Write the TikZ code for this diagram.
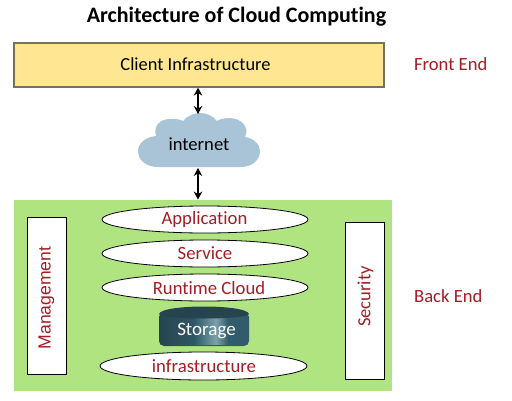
\documentclass[tikz,border=0pt]{standalone}
\usepackage{fontspec}
\setmainfont{Carlito}[Ligatures=NoCommon]
\newfontfamily\armfont{Liberation Sans}
\usetikzlibrary{arrows.meta,shapes.geometric}
\definecolor{darkred}{RGB}{163,30,36}
\definecolor{clientfill}{RGB}{254,230,146}
\definecolor{clientedge}{RGB}{120,112,90}
\definecolor{backfill}{RGB}{176,228,128}
\definecolor{cloudfill}{RGB}{168,196,214}
\definecolor{stdark}{RGB}{38,68,80}
\definecolor{stmid}{RGB}{50,92,108}
\definecolor{stlight}{RGB}{122,160,170}
\tikzset{
 lay/.style={draw=black,line width=0.8pt,fill=white,ellipse,inner sep=0pt},
 laylabel/.style={text=darkred,inner sep=0pt,font=\fontsize{18.7}{19}\selectfont},
 sidebox/.style={draw=black,line width=0.9pt,fill=white,inner sep=0pt},
 tag/.style={text=darkred,font=\fontsize{18.6}{19}\selectfont,anchor=west,inner sep=0pt},
 link/.style={line width=1.1pt,{Stealth[length=8pt,width=8.5pt]}-{Stealth[length=8pt,width=8.5pt]}}
}
\begin{document}
\begin{tikzpicture}[x=1pt,y=-1pt]
\useasboundingbox (0,0) rectangle (512,400);
\fill[white] (0,0) rectangle (512,400);
\node[font=\bfseries\fontsize{22}{22}\selectfont,inner sep=0pt] (title) at (236.5,17) {Architecture of Cloud Computing};
\node[draw=clientedge,line width=1.2pt,fill=clientfill,minimum width=370pt,minimum height=44pt,inner sep=0pt] (client) at (199,65) {};
\node[font=\fontsize{18.4}{19}\selectfont,inner sep=0pt] (clientlabel) at (195.5,64) {Client Infrastructure};
\node[tag] (front) at (414,64.5) {Front End};
% cloud
\fill[cloudfill] (158,167)
 .. controls (146,167) and (138,160) .. (138,151)
 .. controls (138,143) and (146,137) .. (156,136)
 .. controls (153,126) and (160,119) .. (170,119)
 .. controls (175,119) and (180,119) .. (183,121)
 .. controls (187,116) and (194,113) .. (200,113)
 .. controls (207,113) and (213,116) .. (217,121)
 .. controls (220,119) and (225,118) .. (229,118)
 .. controls (241,118) and (250,127) .. (245,137)
 .. controls (253,138) and (260,144) .. (260,151)
 .. controls (260,160) and (252,167) .. (241,167) -- cycle;
\coordinate (cloudtop) at (198,114);
\coordinate (cloudbottom) at (198,168);
\node[font=\fontsize{18.6}{19}\selectfont,inner sep=0pt] (net) at (199,144.5) {internet};
\node[fill=backfill,minimum width=378pt,minimum height=191.5pt,inner sep=0pt] (back) at (203,295.5) {};
\draw[link] (client.south -| cloudtop) -- (cloudtop);
\draw[link] (cloudbottom) -- (back.north -| cloudbottom);
\node[lay,minimum width=206pt,minimum height=27pt] (app) at (205,219.5) {};
\node[laylabel] (applabel) at (204.5,219.5) {Application};
\node[lay,minimum width=206pt,minimum height=27pt] (serv) at (205,253.5) {};
\node[laylabel] (servlabel) at (205,253) {Service};
\node[lay,minimum width=206pt,minimum height=27pt] (run) at (205,287.5) {};
\node[laylabel] (runlabel) at (209,288) {Runtime Cloud};
\node[lay,minimum width=207pt,minimum height=28pt] (infra) at (203.5,366) {};
\node[laylabel] (infralabel) at (204,366) {infrastructure};
\node[sidebox,minimum width=39pt,minimum height=157pt] (mgmt) at (46.5,295.5) {};
\node[rotate=90,text=darkred,inner sep=0pt,font=\armfont\fontsize{17.6}{18}\selectfont] (mgmtlabel) at (46.5,298) {Management};
\node[sidebox,minimum width=39.5pt,minimum height=157pt] (sec) at (364.7,300.5) {};
\node[rotate=90,text=darkred,inner sep=0pt,font=\fontsize{18.6}{19}\selectfont] (seclabel) at (365.5,296.5) {Security};
\node[tag] (backlabel) at (414,296) {Back End};
% storage cylinder
\shade[left color=stdark,right color=stmid,middle color=stmid,rounded corners=5pt] (159,312) rectangle (249,346);
\shade[left color=stmid,right color=stlight] (195,316) rectangle (216,344);
\shade[left color=stlight,right color=stmid] (216,316) rectangle (228,344);
\fill[stdark] (159,314) .. controls (161,304) and (247,304) .. (249,314) .. controls (247,320) and (161,320) .. (159,314) -- cycle;
\node[text=white,font=\fontsize{19}{19}\selectfont,inner sep=0pt] (store) at (206.5,330.5) {Storage};
\end{tikzpicture}
\end{document}
